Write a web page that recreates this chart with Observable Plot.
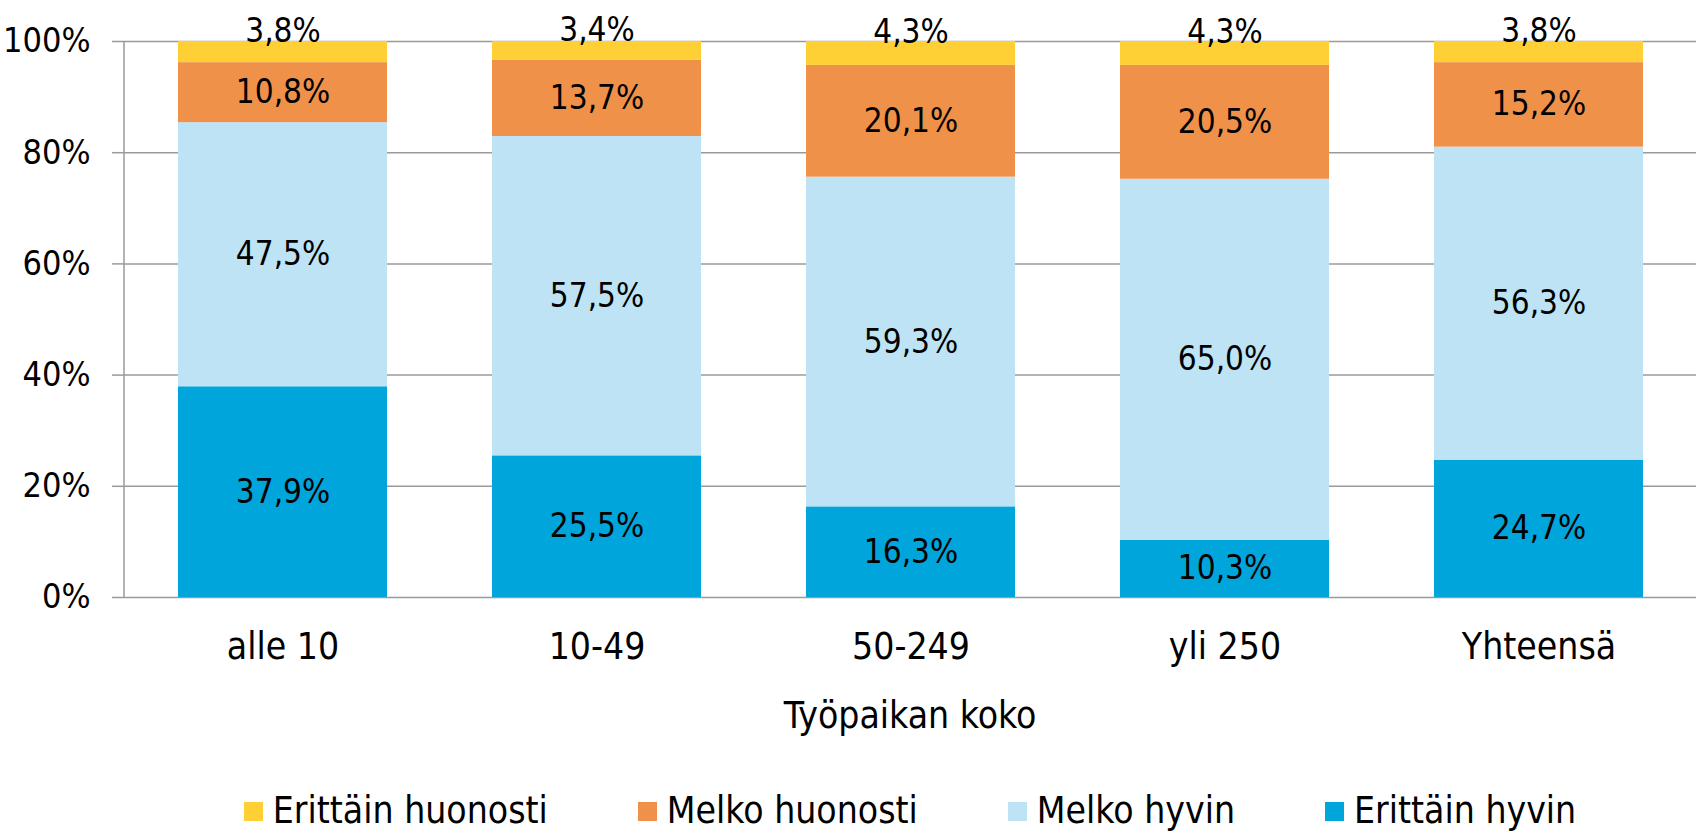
<!DOCTYPE html>
<html><head><meta charset="utf-8">
<script src="https://cdn.jsdelivr.net/npm/d3@7"></script>
<script src="https://cdn.jsdelivr.net/npm/@observablehq/plot@0.6"></script>
<style>
body{margin:0;background:#fff;font-family:"DejaVu Sans Condensed","DejaVu Sans",sans-serif;font-stretch:condensed;color:#000;}
#wrap{width:1701px;height:835px;overflow:hidden;}
#title{margin-left:124px;width:1572px;height:52px;line-height:52px;text-align:center;font-size:37px;}
#legend{margin-left:124px;width:1572px;display:flex;justify-content:center;gap:90px;padding-top:48px;font-size:37px;line-height:42px;}
.item{display:flex;align-items:center;}
.sw{width:19px;height:19px;margin-right:10px;}
</style></head><body><div id="wrap"><div id="chart"></div><div id="title"></div><div id="legend"></div></div>
<script>
const sizes = ["alle 10", "10-49", "50-249", "yli 250", "Yhteensä"];
const seriesNames = ["Erittäin huonosti", "Melko huonosti", "Melko hyvin", "Erittäin hyvin"];
const seriesColors = ["#FFD035", "#F0914A", "#BDE3F5", "#00A5DB"];
const erittainHyvin = [37.9, 25.5, 16.3, 10.3, 24.7];
const melkoHyvin = [47.5, 57.5, 59.3, 65.0, 56.3];
const melkoHuonosti = [10.8, 13.7, 20.1, 20.5, 15.2];
const erittainHuonosti = [3.8, 3.4, 4.3, 4.3, 3.8];
const axisTitle = "Työpaikan koko";
const yTicks = [0, 0.2, 0.4, 0.6, 0.8, 1];

const stackOrder = ["Erittäin hyvin", "Melko hyvin", "Melko huonosti", "Erittäin huonosti"];
const valuesBySeries = {
  "Erittäin hyvin": erittainHyvin,
  "Melko hyvin": melkoHyvin,
  "Melko huonosti": melkoHuonosti,
  "Erittäin huonosti": erittainHuonosti
};
const data = [];
for (const s of stackOrder) sizes.forEach((size, i) => data.push({size, series: s, value: valuesBySeries[s][i]}));
const fmt = v => v.toFixed(1).replace(".", ",") + "%";
const font = '"DejaVu Sans Condensed","DejaVu Sans",sans-serif';
const stackOpts = {x: "size", y: "value", z: "series", order: stackOrder, offset: "normalize"};

// vertical axis line along the left edge of the frame
const yAxisLine = (index, scales, values, dims) => {
  const g = d3.create("svg:line")
    .attr("x1", dims.marginLeft).attr("x2", dims.marginLeft)
    .attr("y1", dims.marginTop).attr("y2", dims.height - dims.marginBottom)
    .attr("stroke", "#9a9a9a").attr("stroke-width", 1.5);
  return g.node();
};

const chart = Plot.plot({
  width: 1701, height: 690,
  marginLeft: 124, marginRight: 5, marginTop: 41, marginBottom: 93,
  style: {fontFamily: font, fontSize: "34px", color: "#000", background: "#fff", fontStretch: "condensed"},
  x: {domain: sizes, paddingInner: 0.335, paddingOuter: 0.1675, label: null},
  y: {domain: [0, 1], label: null},
  color: {domain: seriesNames, range: seriesColors},
  marks: [
    Plot.gridY(yTicks, {stroke: "#9a9a9a", strokeOpacity: 1, strokeWidth: 1.5}),
    yAxisLine,
    Plot.barY(data, Plot.stackY({...stackOpts, fill: "series"})),
    Plot.text(data, Plot.stackY({...stackOpts, text: d => d.series === "Erittäin huonosti" ? "" : fmt(d.value), fontSize: 33, fill: "#000"})),
    Plot.text(data, Plot.stackY({...stackOpts, text: d => d.series === "Erittäin huonosti" ? fmt(d.value) : "", fontSize: 33, fill: "#000", dy: -21})),
    Plot.axisY({ticks: yTicks, tickFormat: d3.format(".0%"), tickSize: 12, tickPadding: 22, stroke: "#9a9a9a", strokeWidth: 1.5, label: null, fontSize: 34}),
    Plot.axisX({tickSize: 0, tickPadding: 35, label: null, fontSize: 37})
  ]
});
document.getElementById("chart").appendChild(chart);
document.getElementById("title").textContent = axisTitle;
const legend = document.getElementById("legend");
seriesNames.forEach((s, i) => {
  const item = document.createElement("div"); item.className = "item";
  const sw = document.createElement("div"); sw.className = "sw"; sw.style.background = seriesColors[i];
  const t = document.createElement("span"); t.textContent = s;
  item.appendChild(sw); item.appendChild(t); legend.appendChild(item);
});
</script></body></html>
